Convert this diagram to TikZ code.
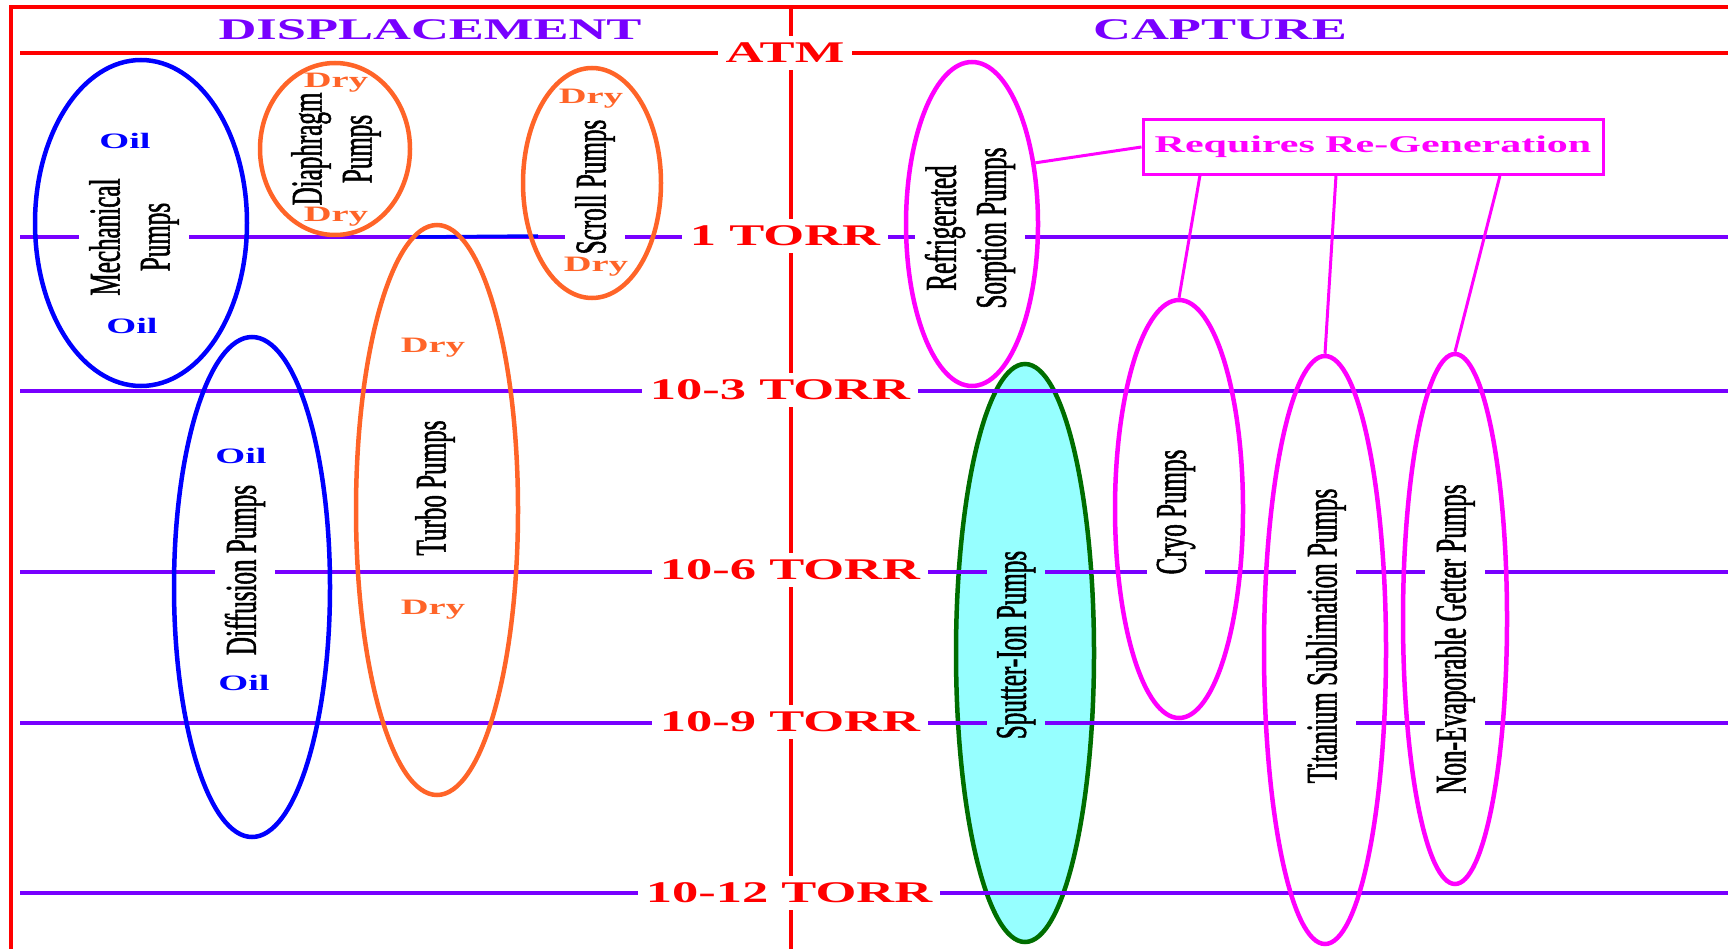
\documentclass[tikz,border=0pt]{standalone}
\usepackage{fontspec}
\setmainfont{Liberation Serif}
\newfontfamily\widefont[FakeStretch=1.75]{Liberation Serif}
\newfontfamily\pumpfont[FakeStretch=0.57,FakeBold=1.2]{Liberation Serif}
\usetikzlibrary{shapes.geometric,calc}

\definecolor{frame}{RGB}{255,0,0}
\definecolor{torrline}{RGB}{120,0,255}
\definecolor{oilblue}{RGB}{0,0,255}
\definecolor{dryorange}{RGB}{255,100,40}
\definecolor{capmag}{RGB}{255,0,255}
\definecolor{iongreen}{RGB}{0,110,0}
\definecolor{ioncyan}{RGB}{150,255,255}

\tikzstyle{pump} = [ellipse, line width=4.5pt, inner sep=0pt]
\tikzstyle{pumptext} = [rotate=90, align=center, fill=white, inner xsep=2pt, inner ysep=10pt, font=\pumpfont\fontsize{44}{50}\selectfont]
\tikzstyle{level} = [fill=white, text=frame, inner xsep=8pt, inner ysep=7pt, font=\widefont\bfseries\fontsize{30}{36}\selectfont]
\tikzstyle{head} = [text=torrline, font=\widefont\bfseries\fontsize{30}{36}\selectfont]
\tikzstyle{tag} = [inner sep=0pt, font=\widefont\bfseries\fontsize{22}{26}\selectfont]
\tikzstyle{torr} = [torrline, line width=3.5pt]
\tikzstyle{link} = [capmag, line width=3pt]

\begin{document}
\begin{tikzpicture}[x=1pt, y=-1pt]
\useasboundingbox (0,0) rectangle (1728,949);
\draw[frame, line width=4pt] (1728,7) -- (11,7) -- (11,949);
\draw[frame, line width=4pt] (20,53) -- (1728,53);
\node[pump, draw=iongreen, fill=ioncyan, minimum width=138pt, minimum height=578pt] (sputter) at (1025,653) {};
\foreach \y in {237,391,572,723,893}
	\draw[torr] (20,\y) -- (1728,\y);
\draw[oilblue, line width=3.5pt] (416,237) -- (538,236);
\draw[frame, line width=4pt] (791,7) -- (791,949);

\node[pumptext] (mechtext) at (134,237) {Mechanical\\Pumps};
\node[pumptext, fill=none] (diaphtext) at (336,149) {Diaphragm\\Pumps};
\node[pumptext] (scrolltext) at (595,187) {Scroll Pumps};
\node[pumptext] (turbotext) at (435,488) {Turbo Pumps};
\node[pumptext] (difftext) at (245,570) {Diffusion Pumps};
\node[pumptext] (sorptext) at (970,228) {Refrigerated\\Sorption Pumps};
\node[pumptext, fill=ioncyan] (sputtertext) at (1016,645) {Sputter-Ion Pumps};
\node[pumptext] (cryotext) at (1176,512) {Cryo Pumps};
\node[pumptext] (tsptext) at (1326,636) {Titanium Sublimation Pumps};
\node[pumptext] (negtext) at (1455,639) {Non-Evaporable Getter Pumps};

\node[pump, draw=oilblue, minimum width=212pt, minimum height=326pt] (mech) at (141,223) {};
\node[pump, draw=dryorange, minimum width=150pt, minimum height=172pt] (diaph) at (335,149) {};
\node[pump, draw=dryorange, minimum width=138pt, minimum height=230pt] (scroll) at (592,183) {};
\node[pump, draw=dryorange, minimum width=162pt, minimum height=570pt] (turbo) at (437,510) {};
\node[pump, draw=oilblue, minimum width=156pt, minimum height=500pt] (diff) at (252,587) {};
\node[pump, draw=capmag, minimum width=132pt, minimum height=324pt] (sorp) at (972,224) {};
\node[pump, draw=capmag, minimum width=128pt, minimum height=418pt] (cryo) at (1179,509) {};
\node[pump, draw=capmag, minimum width=122pt, minimum height=588pt] (tsp) at (1325,650) {};
\node[pump, draw=capmag, minimum width=104pt, minimum height=530pt] (neg) at (1455,619) {};

\node[tag, text=oilblue] (mechoil1) at (125,141) {Oil};
\node[tag, text=oilblue] (mechoil2) at (132,326) {Oil};
\node[tag, text=dryorange] (diaphdry1) at (336,83) {Dry};
\node[tag, text=dryorange] (diaphdry2) at (336,217) {Dry};
\node[tag, text=dryorange] (scrolldry1) at (591,99) {Dry};
\node[tag, text=dryorange] (scrolldry2) at (596,267) {Dry};
\node[tag, text=dryorange] (turbodry1) at (433,348) {Dry};
\node[tag, text=dryorange] (turbodry2) at (433,610) {Dry};
\node[tag, text=oilblue] (diffoil1) at (241,456) {Oil};
\node[tag, text=oilblue] (diffoil2) at (244,683) {Oil};

\node[head] (disp) at (430,30) {DISPLACEMENT};
\node[head] (capt) at (1220,30) {CAPTURE};
\node[level] (atm) at (785,53) {ATM};
\node[level] (torr0) at (785,236) {1 TORR};
\node[level] (torr3) at (780,390) {10-3 TORR};
\node[level] (torr6) at (790,570) {10-6 TORR};
\node[level] (torr9) at (790,722) {10-9 TORR};
\node[level] (torr12) at (789,893) {10-12 TORR};

\node[draw=capmag, line width=3pt, fill=white, text=capmag, minimum width=460pt, minimum height=55pt, inner sep=0pt, font=\widefont\bfseries\fontsize{24}{28}\selectfont] (req) at (1373,147) {Requires Re-Generation};
\draw[link] (sorp.44) -- (req.west);
\draw[link] ($(req.south west)!0.126!(req.south east)$) -- (cryo.north);
\draw[link] ($(req.south west)!0.42!(req.south east)$) -- (tsp.north);
\draw[link] ($(req.south west)!0.774!(req.south east)$) -- (neg.north);
\end{tikzpicture}
\end{document}
